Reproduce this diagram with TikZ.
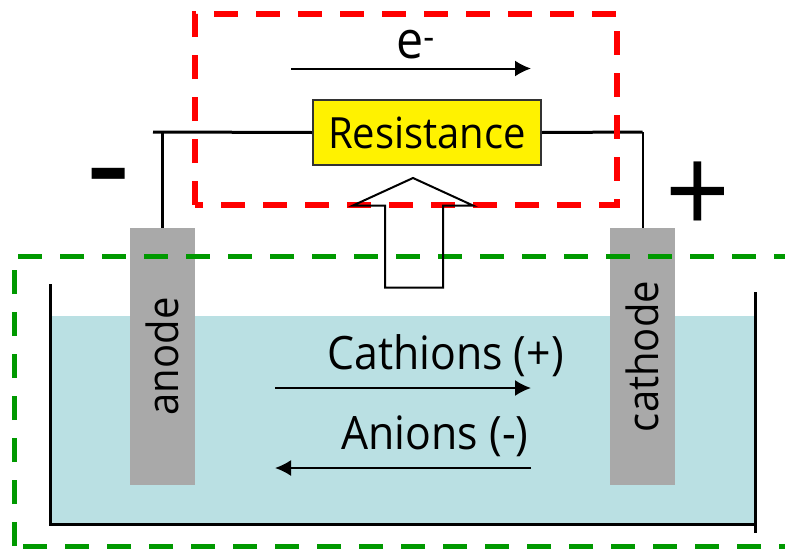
\documentclass[tikz,border=0pt]{standalone}
\usepackage{fontspec}
\setmainfont[FakeStretch=0.93]{Open Sans}
\usepackage{tikz}
\usetikzlibrary{arrows.meta}
\definecolor{tankblue}{HTML}{BAE0E3}
\definecolor{electrodegray}{HTML}{A9A9A9}
\definecolor{boxgreen}{HTML}{009900}
\tikzset{
 label43/.style={font=\fontsize{43}{50}\selectfont, inner sep=0pt},
 label46/.style={font=\fontsize{46}{54}\selectfont, inner sep=0pt},
 electrode/.style={fill=electrodegray, rotate=90, minimum width=257pt, minimum height=65pt, inner sep=0pt, label43},
 wire/.style={line width=3pt},
 flow/.style={line width=2pt, -{Latex[length=16pt,width=16pt]}},
 redbox/.style={draw=red, line width=5.5pt, dash pattern=on 24pt off 18pt},
 greenbox/.style={draw=boxgreen, line width=5pt, dash pattern=on 24pt off 18pt}
}
\begin{document}
\begin{tikzpicture}[x=1pt, y=-1pt]
 \clip (0,0) rectangle (785,549);
 \fill[tankblue] (50,316) rectangle (755,524);
 \draw[line width=3pt] (50,284) -- (50,524) -- (755,524);
 \draw[line width=3pt] (755,292) -- (755,533);

 \node[electrode] (anode) at (162.5,356.5) {anode};
 \node[electrode] (cathode) at (642.5,356.5) {cathode};
 \node[draw=black!80, line width=2pt, fill=yellow, minimum width=228pt, minimum height=65pt, label43] (resistance) at (427,132.5) {Resistance};
 \coordinate (wirestub) at (153,132);

 \draw[wire] (wirestub) -- (resistance.west);
 \draw[wire] (anode.east) -- (anode.east |- wirestub);
 \draw[wire] (resistance.east) -- (cathode.east |- wirestub);
 \draw[line width=2pt] (cathode.east |- wirestub) -- (cathode.east);

 \draw[redbox] (195,205) -- (195,14) -- (617,14) -- (617,205) -- cycle;
 \draw[greenbox] (14,546) -- (14,256) -- (803,256);
 \draw[greenbox] (803,546) -- (14,546);

 \draw[line width=2pt, line join=miter] (413,178) -- (473,205.5) -- (443,205.5) -- (443,287.5) -- (385,287.5) -- (385,205.5) -- (353,205.5) -- cycle;

 \coordinate (electronstart) at (291,68.5);
 \coordinate (electronend) at (531,68.5);
 \coordinate (cationstart) at (275,388);
 \coordinate (cationend) at (531,388);
 \coordinate (anionstart) at (531,468);
 \coordinate (anionend) at (275,468);
 \draw[flow] (electronstart) -- (electronend);
 \draw[flow] (cationstart) -- (cationend);
 \draw[flow] (anionstart) -- (anionend);

 \node[font=\fontsize{52}{60}\selectfont, inner sep=0pt] (electron) at (415.5,45) {e\textsuperscript{-}};
 \node[label46] (cations) at (445.5,356) {Cathions (+)};
 \node[label46] (anions) at (435,436) {Anions (-)};
 \node[font=\fontsize{148}{148}\selectfont, inner sep=0pt] (minus) at (109,191) {-};
 \node[font=\fontsize{122}{122}\selectfont, inner sep=0pt] (plus) at (697.5,198) {+};
\end{tikzpicture}
\end{document}
